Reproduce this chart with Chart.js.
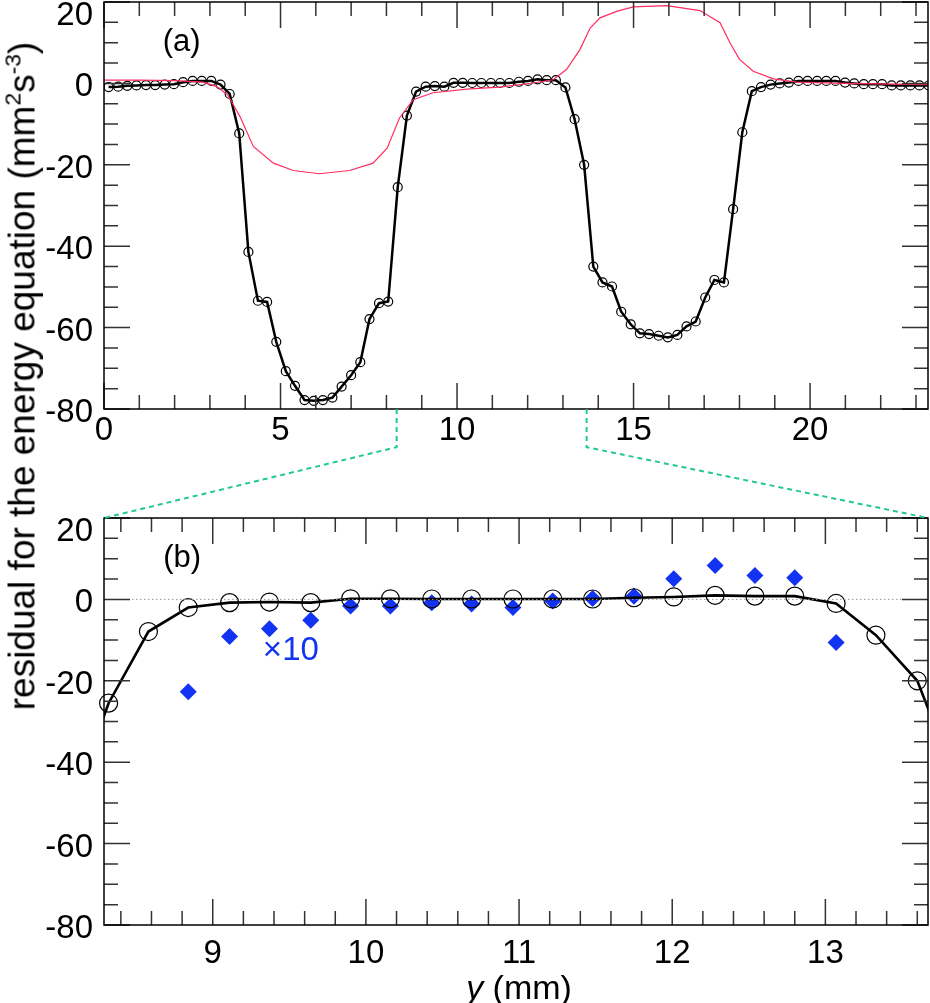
<!DOCTYPE html>
<html>
<head>
<meta charset="utf-8">
<script src="https://cdn.jsdelivr.net/npm/chart.js@4.4.0/dist/chart.umd.min.js"></script>
<style>
  body { margin: 0; background: #fff; }
  #wrap { position: relative; width: 930px; height: 1003px; font-family: "Liberation Sans", Arial, sans-serif; color: #000; }
  canvas { position: absolute; left: 0; }
  #cA { top: 0; }
  #cB { top: 409px; }
  #ytitle { position: absolute; left: 22px; top: 376px; transform: translate(-50%, -50%) rotate(-90deg); white-space: nowrap; font-size: 37px; line-height: 1; }
  #ytitle sup { font-size: 0.62em; vertical-align: 0.6em; line-height: 0; }
  #xtitle { position: absolute; left: 519px; top: 987px; transform: translate(-50%, -50%); white-space: nowrap; font-size: 34px; line-height: 1; }
</style>
</head>
<body>
<div id="wrap">
  <canvas id="cA" width="930" height="460"></canvas>
  <canvas id="cB" width="930" height="594"></canvas>
  <div id="ytitle">residual for the energy equation (mm<sup>2</sup>s<sup>-3</sup>)</div>
  <div id="xtitle"><i>y</i> (mm)</div>
</div>
<script>
/* grid positions y (mm) */
const gridX = [0.13, 0.40, 0.66, 0.92, 1.19, 1.45, 1.72, 1.98, 2.24, 2.51,
  2.77, 3.04, 3.30, 3.56, 3.83, 4.09, 4.36, 4.62, 4.88, 5.15,
  5.41, 5.68, 5.94, 6.20, 6.47, 6.73, 7.00, 7.26, 7.52, 7.79,
  8.05, 8.32, 8.58, 8.84, 9.11, 9.37, 9.64, 9.90, 10.16, 10.43,
  10.69, 10.96, 11.22, 11.48, 11.75, 12.01, 12.28, 12.54, 12.80, 13.07,
  13.33, 13.60, 13.86, 14.12, 14.39, 14.65, 14.92, 15.18, 15.44, 15.71,
  15.97, 16.24, 16.50, 16.76, 17.03, 17.29, 17.56, 17.82, 18.08, 18.35,
  18.61, 18.88, 19.14, 19.40, 19.67, 19.93, 20.20, 20.46, 20.72, 20.99,
  21.25, 21.52, 21.78, 22.04, 22.31, 22.57, 22.84, 23.10, 23.36];

/* residual, black curve with circles */
const residual = [-0.9, -0.8, -0.6, -0.5, -0.4, -0.4, -0.3, -0.2, 0.3, 0.6,
  0.6, 0.6, -0.3, -2.6, -12.3, -41.4, -53.4, -53.7, -63.5, -70.7,
  -74.3, -77.8, -78.0, -77.8, -77.2, -74.5, -71.7, -68.5, -57.9, -54.0,
  -53.6, -25.5, -7.9, -2.0, -0.8, -0.65, -0.8, 0.15, 0.15, 0.1,
  0.1, 0.1, 0.1, 0.1, 0.4, 0.6, 1.0, 0.8, 0.8, -1.0,
  -8.8, -20.0, -45.0, -48.9, -49.9, -56.1, -59.2, -61.4, -61.6, -62.0,
  -62.4, -61.8, -59.7, -58.5, -52.6, -48.3, -48.9, -30.9, -12.0, -1.9,
  -0.9, -0.3, 0.0, 0.2, 0.6, 0.6, 0.6, 0.6, 0.6, 0.2,
  0.0, -0.2, -0.2, -0.2, -0.5, -0.5, -0.5, -0.5, -0.5];

/* thin red curve in (a) */
const redX = [0, 1, 2, 2.8, 3.2, 3.5, 3.85, 4.23, 4.8, 5.36, 6.1, 6.96, 7.62, 8.02, 8.37, 8.76,
  9.32, 10.27, 11.2, 12.15, 12.72, 13.1, 13.48, 13.77, 14.05, 14.52, 14.99, 15.94, 16.88,
  17.45, 17.73, 18.0, 18.39, 18.96, 19.62, 21.0, 23.34];
const redY = [0.8, 0.8, 0.7, 0.3, -0.8, -2.8, -8.1, -15.5, -19.6, -21.4, -22.2, -21.4, -19.6, -15.9, -8.5, -4.0,
  -2.3, -1.4, -0.9, 0.1, 0.9, 3.4, 8.3, 13.6, 16.1, 17.7, 18.8, 19.1, 17.9,
  14.9, 10.0, 5.9, 3.0, 1.1, 0.3, 0.0, -0.3];

/* blue diamonds (x10) in (b) */
const blueX = [8.84, 9.11, 9.37, 9.64, 9.90, 10.16, 10.43, 10.69, 10.96, 11.22,
  11.48, 11.75, 12.01, 12.28, 12.54, 12.80, 13.07];
const blueY = [-22.7, -9.1, -7.2, -5.1, -1.6, -1.6, -0.8, -1.1, -2.0, -0.4,
  0.2, 0.8, 5.1, 8.3, 5.9, 5.3, -10.6];

/* axes */
const xRangeA = [0, 23.34];
const xRangeB = [8.29, 13.67];
const yRange = [-80, 20];
const xTicksA = [0, 5, 10, 15, 20];
const xTicksB = [9, 10, 11, 12, 13];
const yTicks = [-80, -60, -40, -20, 0, 20];

const FONT = '"Liberation Sans", Arial, sans-serif';
const BLUE = '#1233f2';

function pts(xs, ys) {
  return xs.map((x, i) => ({x: x, y: ys[i]}));
}

/* frame, inward ticks, y labels and text notes */
const frameTicks = {
  id: 'frameTicks',
  afterDatasetsDraw(chart, args, opts) {
    const ctx = chart.ctx, a = chart.chartArea, x = chart.scales.x, y = chart.scales.y;
    ctx.save();
    ctx.strokeStyle = '#333';
    ctx.lineWidth = 1.5;
    ctx.beginPath();
    for (let k = Math.ceil(x.min / opts.xMinor - 1e-6); k * opts.xMinor <= x.max + 1e-6; k++) {
      const v = k * opts.xMinor;
      const r = v / opts.xMajor;
      const len = Math.abs(r - Math.round(r)) < 1e-6 ? 26 : 14;
      const px = x.getPixelForValue(v);
      ctx.moveTo(px, a.bottom); ctx.lineTo(px, a.bottom - len);
      ctx.moveTo(px, a.top); ctx.lineTo(px, a.top + len);
    }
    for (let k = Math.ceil(y.min / opts.yMinor - 1e-6); k * opts.yMinor <= y.max + 1e-6; k++) {
      const v = k * opts.yMinor;
      const r = v / opts.yMajor;
      const len = Math.abs(r - Math.round(r)) < 1e-6 ? 26 : 14;
      const py = y.getPixelForValue(v);
      ctx.moveTo(a.left, py); ctx.lineTo(a.left + len, py);
      ctx.moveTo(a.right, py); ctx.lineTo(a.right - len, py);
    }
    ctx.stroke();
    ctx.strokeStyle = '#000';
    ctx.strokeRect(a.left, a.top, a.right - a.left, a.bottom - a.top);

    // y tick labels, the top one kept inside the canvas like the original
    ctx.fillStyle = '#000';
    ctx.font = '33px ' + FONT;
    ctx.textAlign = 'right';
    ctx.textBaseline = 'middle';
    y.ticks.forEach(t => {
      const py = Math.max(y.getPixelForValue(t.value) + 4, a.top + 14);
      ctx.fillText(String(t.value), a.left - 11, py);
    });

    (opts.notes || []).forEach(n => {
      ctx.fillStyle = n.color || '#000';
      ctx.font = n.size + 'px ' + FONT;
      ctx.textAlign = 'center';
      ctx.fillText(n.text, x.getPixelForValue(n.x), y.getPixelForValue(n.y));
    });
    ctx.restore();
  }
};

function baseOptions(xRange, xTicks, xPad, notes, minor, padTop, xHeight) {
  return {
    responsive: false,
    animation: false,
    layout: {autoPadding: false, padding: {top: padTop, right: 2, left: 0, bottom: 0}},
    plugins: {
      legend: {display: false},
      tooltip: {enabled: false},
      frameTicks: {xMinor: minor[0], xMajor: minor[1], yMinor: 5, yMajor: 20, notes: notes}
    },
    scales: {
      x: {
        type: 'linear', min: xRange[0], max: xRange[1],
        grid: {display: false, drawTicks: false}, border: {display: false},
        ticks: {font: {family: FONT, size: 33}, color: '#000', padding: xPad, maxRotation: 0},
        afterBuildTicks: s => { s.ticks = xTicks.map(v => ({value: v})); },
        afterFit: s => { s.height = xHeight; }
      },
      y: {
        type: 'linear', min: yRange[0], max: yRange[1],
        grid: {display: false, drawTicks: false}, border: {display: false},
        ticks: {display: false},
        afterBuildTicks: s => { s.ticks = yTicks.map(v => ({value: v})); },
        afterFit: s => { s.width = 104; }
      }
    }
  };
}

const chartA = new Chart(document.getElementById('cA'), {
  type: 'scatter',
  data: {
    datasets: [
      {data: pts(redX, redY), showLine: true, borderColor: '#ff2d5f', borderWidth: 1.2, pointRadius: 0},
      {data: pts(gridX, residual), showLine: true, borderColor: '#000', borderWidth: 2.5,
        pointRadius: 4.5, pointBorderWidth: 1.2, pointBorderColor: '#000', pointBackgroundColor: 'rgba(0,0,0,0)'}
    ]
  },
  options: baseOptions(xRangeA, xTicksA, 2, [{text: '(a)', x: 2.2, y: 10, size: 31}], [1, 5], 2, 51),
  plugins: [frameTicks]
});

/* green dashed lines joining the zoomed range of (a) to panel (b) */
const zoomLines = {
  id: 'zoomLines',
  afterDraw(chart) {
    const ctx = chart.ctx, a = chart.chartArea;
    const off = chart.canvas.offsetTop - chartA.canvas.offsetTop;
    const y0 = chartA.chartArea.bottom - off;
    const yk = y0 + 0.35 * (a.top - y0);
    const xl = chartA.scales.x.getPixelForValue(chart.scales.x.min);
    const xr = chartA.scales.x.getPixelForValue(chart.scales.x.max);
    ctx.save();
    ctx.strokeStyle = '#22c98a';
    ctx.lineWidth = 2;
    ctx.setLineDash([5, 4]);
    ctx.beginPath();
    ctx.moveTo(xl, y0); ctx.lineTo(xl, yk); ctx.lineTo(a.left, a.top);
    ctx.moveTo(xr, y0); ctx.lineTo(xr, yk); ctx.lineTo(a.right, a.top);
    ctx.stroke();
    ctx.restore();
  }
};

const inB = pts(gridX, residual).filter(p => p.x >= xRangeB[0] && p.x <= xRangeB[1]);

const chartB = new Chart(document.getElementById('cB'), {
  type: 'scatter',
  data: {
    datasets: [
      {data: [{x: xRangeB[0], y: 0}, {x: xRangeB[1], y: 0}], showLine: true, borderColor: '#9a9a9a',
        borderWidth: 1, borderDash: [1.5, 2.5], pointRadius: 0},
      {data: pts(gridX, residual), showLine: true, borderColor: '#000', borderWidth: 2.6, pointRadius: 0},
      {data: inB, pointRadius: 9, pointBorderWidth: 1.2, pointBorderColor: '#000',
        pointBackgroundColor: 'rgba(0,0,0,0)', clip: false},
      {data: pts(blueX, blueY), pointStyle: 'rectRot', pointRadius: 8.5, pointBorderWidth: 0,
        pointBackgroundColor: BLUE, pointBorderColor: BLUE}
    ]
  },
  options: baseOptions(xRangeB, xTicksB, 9,
    [{text: '(b)', x: 8.8, y: 10, size: 31}, {text: '\u00d710', x: 9.51, y: -12.7, size: 33, color: BLUE}],
    [0.2, 1], 109, 78),
  plugins: [frameTicks, zoomLines]
});
</script>
</body>
</html>
